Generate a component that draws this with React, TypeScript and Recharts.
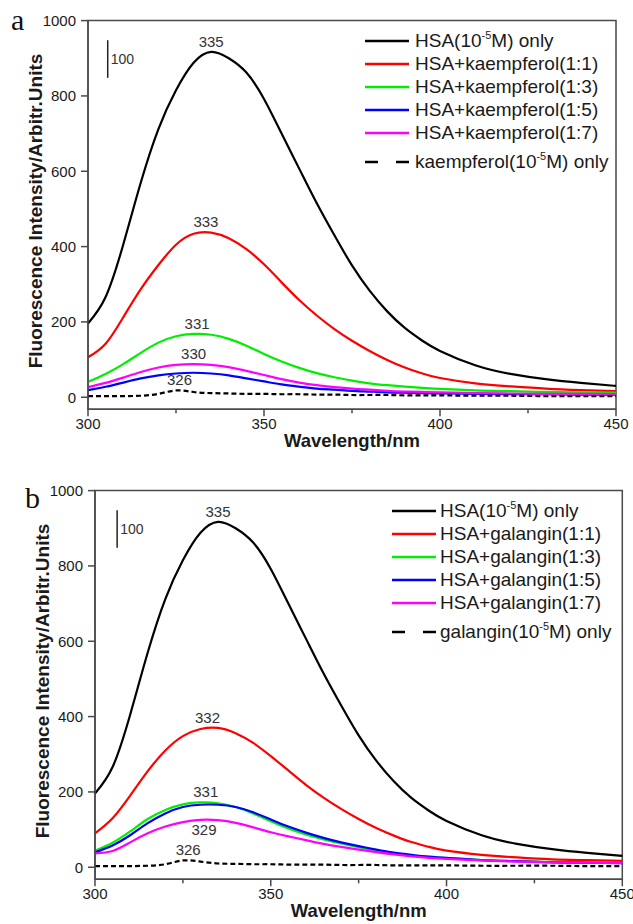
import React from "react";
import { LineChart, Line, XAxis, YAxis, Legend, ReferenceArea, ReferenceDot, ReferenceLine } from "recharts";

// emission wavelength (nm)
const wavelengths = [
  300, 305, 310, 315, 320, 325, 330, 335, 340, 345, 350, 355, 360, 365, 370, 375, 380, 385, 390, 395, 400,
  410, 420, 430, 440, 450,
];

// panel a – kaempferol
const hsaOnly = [196, 266, 405, 570, 712, 815, 888, 917, 900, 862, 792, 700, 607, 515, 430, 350, 283, 228, 184, 150, 123, 85, 62, 48, 38, 30];
const kaempferol11 = [106, 142, 212, 287, 351, 405, 434, 437, 422, 393, 353, 305, 258, 217, 181, 150, 123, 99, 79, 63, 51, 37, 29, 23, 19, 16];
const kaempferol13 = [41, 62, 88, 118, 145, 162, 168, 166, 155, 137, 115, 95, 78, 64, 53, 44, 37, 32, 28, 25, 22, 18, 16, 14, 13, 12];
const kaempferol15 = [19, 28, 39, 50, 58, 63, 65, 63, 58, 50, 42, 34, 28, 23, 20, 17, 15, 13, 12, 11, 10, 9, 8, 8, 7, 7];
const kaempferol17 = [27, 38, 52, 67, 79, 86, 88, 86, 80, 70, 59, 48, 39, 32, 27, 23, 20, 17, 15, 14, 13, 11, 10, 9, 9, 8];
const kaempferolOnly = [3, 3, 3, 4, 9, 18, 14, 11, 10, 9, 9, 8, 8, 7, 7, 6, 6, 6, 5, 5, 5, 4, 4, 3, 3, 3];

// panel b – galangin
const galangin11 = [90, 130, 190, 255, 310, 348, 367, 370, 356, 330, 295, 257, 219, 185, 155, 128, 104, 84, 67, 54, 44, 33, 26, 21, 19, 17];
const galangin13 = [44, 65, 95, 128, 152, 167, 172, 170, 160, 143, 122, 103, 87, 74, 63, 53, 44, 37, 31, 27, 24, 19, 16, 14, 13, 12];
const galangin15 = [40, 58, 85, 117, 143, 160, 166, 166, 160, 146, 127, 108, 92, 78, 66, 56, 47, 39, 33, 28, 25, 19, 16, 13, 12, 11];
const galangin17 = [37, 43, 66, 90, 108, 120, 126, 125, 118, 106, 93, 82, 72, 62, 54, 47, 40, 34, 29, 25, 22, 18, 15, 13, 12, 11];
const galanginOnly = [3, 3, 3, 4, 8, 18, 15, 10, 9, 8, 8, 7, 7, 7, 6, 6, 6, 5, 5, 5, 5, 4, 4, 4, 3, 3];

const xTicks = [300, 325, 350, 375, 400, 425, 450];
const yTicks = [0, 200, 400, 600, 800, 1000];

// peak maxima annotations
const peaksA = [
  { wl: 335, value: 917, text: "335", pos: "top" },
  { wl: 333.5, value: 438, text: "333", pos: "top" },
  { wl: 331, value: 168, text: "331", pos: "top" },
  { wl: 330, value: 88, text: "330", pos: "top" },
  { wl: 326, value: 18, text: "326", pos: "top" },
];
const peaksB = [
  { wl: 335, value: 917, text: "335", pos: "top" },
  { wl: 332, value: 371, text: "332", pos: "top" },
  { wl: 331.5, value: 172, text: "331", pos: "top" },
  { wl: 331, value: 126, text: "329", pos: "bottom" },
  { wl: 326.5, value: 19, text: "326", pos: "top" },
];

const FONT = '"Liberation Sans", Arial, Helvetica, sans-serif';
const AXIS = "#4a4a4a";
const INK = "#1a1a1a";

const Sup = ({ children }: { children: React.ReactNode }) => (
  <span style={{ fontSize: 11, position: "relative", top: -8 }}>{children}</span>
);

type Series = { key: string; values: number[]; color: string; dash?: string; label: React.ReactNode };

const seriesA: Series[] = [
  { key: "hsa", values: hsaOnly, color: "#000000", label: <>HSA(10<Sup>-5</Sup>M) only</> },
  { key: "r11", values: kaempferol11, color: "#ff0000", label: "HSA+kaempferol(1:1)" },
  { key: "r13", values: kaempferol13, color: "#00ee00", label: "HSA+kaempferol(1:3)" },
  { key: "r15", values: kaempferol15, color: "#0000ff", label: "HSA+kaempferol(1:5)" },
  { key: "r17", values: kaempferol17, color: "#ff00ff", label: "HSA+kaempferol(1:7)" },
  { key: "only", values: kaempferolOnly, color: "#000000", dash: "5 3", label: <>kaempferol(10<Sup>-5</Sup>M) only</> },
];

const seriesB: Series[] = [
  { key: "hsa", values: hsaOnly, color: "#000000", label: <>HSA(10<Sup>-5</Sup>M) only</> },
  { key: "r11", values: galangin11, color: "#ff0000", label: "HSA+galangin(1:1)" },
  { key: "r13", values: galangin13, color: "#00ee00", label: "HSA+galangin(1:3)" },
  { key: "r15", values: galangin15, color: "#0000ff", label: "HSA+galangin(1:5)" },
  { key: "r17", values: galangin17, color: "#ff00ff", label: "HSA+galangin(1:7)" },
  { key: "only", values: galanginOnly, color: "#000000", dash: "5 3", label: <>galangin(10<Sup>-5</Sup>M) only</> },
];

function WlTick(props: any) {
  const { x, y, payload } = props;
  const major = payload.value % 50 === 0;
  return (
    <g>
      <line x1={x} x2={x} y1={y} y2={y + (major ? 7 : 4)} stroke={AXIS} strokeWidth={1.5} />
      {major && (
        <text x={x} y={y + 19.5} textAnchor="middle" fontSize={15} fill={INK} fontFamily={FONT}>
          {payload.value}
        </text>
      )}
    </g>
  );
}

function LegendRows({ series, gap }: { series: Series[]; gap: number }) {
  return (
    <div style={{ position: "relative", fontFamily: FONT, fontSize: 19, color: INK }}>
      {series.map((s, i) => (
        <div
          key={s.key}
          style={{
            position: "absolute",
            left: 0,
            top: i * 22.8 + (s.dash ? 7 : 0),
            height: 22.8,
            display: "flex",
            alignItems: "center",
            whiteSpace: "nowrap",
          }}
        >
          <svg width={44} height={6} style={{ marginRight: gap }}>
            <line x1={0} x2={44} y1={3} y2={3} stroke={s.color} strokeWidth={2.5} strokeDasharray={s.dash ? "13 18" : undefined} />
          </svg>
          <span>{s.label}</span>
        </div>
      ))}
    </div>
  );
}

type PanelProps = {
  series: Series[];
  peaks: { wl: number; value: number; text: string; pos: string }[];
  height: number;
  axisWidth: number;
  rightMargin: number;
  legendLeft: number;
  legendGap: number;
  barX: number;
};

function Panel({ series, peaks, height, axisWidth, rightMargin, legendLeft, legendGap, barX }: PanelProps) {
  const data = wavelengths.map((wl, i) => {
    const row: Record<string, number> = { wl };
    series.forEach((s) => (row[s.key] = s.values[i]));
    return row;
  });
  const plotBottom = 409.3;
  return (
    <LineChart width={633} height={height} data={data} margin={{ top: 20.6, right: rightMargin, left: 0, bottom: 0 }}>
      <XAxis
        dataKey="wl"
        type="number"
        domain={[300, 450]}
        ticks={xTicks}
        interval={0}
        height={height - plotBottom}
        tickSize={0}
        tickMargin={0}
        tickLine={false}
        tick={<WlTick />}
        axisLine={{ stroke: AXIS, strokeWidth: 1.5 }}
        label={{
          content: (p: any) => (
            <text
              x={p.viewBox.x + p.viewBox.width / 2}
              y={p.viewBox.y + 38}
              textAnchor="middle"
              fontSize={18.5}
              fontWeight="bold"
              fill={INK}
              fontFamily={FONT}
            >
              Wavelength/nm
            </text>
          ),
        }}
      />
      <YAxis
        type="number"
        domain={[-32, 1000]}
        allowDataOverflow
        ticks={yTicks}
        interval={0}
        width={axisWidth}
        tickSize={7}
        tickMargin={5}
        tick={{ fontSize: 15, fill: INK, fontFamily: FONT }}
        tickLine={{ stroke: AXIS, strokeWidth: 1.5 }}
        axisLine={{ stroke: AXIS, strokeWidth: 1.5 }}
        label={{
          content: (p: any) => {
            const cx = axisWidth - 46;
            const cy = p.viewBox.y + p.viewBox.height / 2 - 4;
            return (
              <text
                x={cx}
                y={cy}
                transform={`rotate(-90, ${cx}, ${cy})`}
                textAnchor="middle"
                fontSize={19}
                fontWeight="bold"
                fill={INK}
                fontFamily={FONT}
              >
                Fluorescence Intensity/Arbitr.Units
              </text>
            );
          },
        }}
      />
      <ReferenceArea x1={300} x2={450} y1={-32} y2={1000} fill="none" stroke={AXIS} strokeWidth={1.5} />
      {series.map((s) => (
        <Line
          key={s.key}
          type="natural"
          dataKey={s.key}
          stroke={s.color}
          strokeWidth={2.2}
          strokeDasharray={s.dash}
          dot={false}
          activeDot={false}
          isAnimationActive={false}
        />
      ))}
      {peaks.map((p) => (
        <ReferenceDot
          key={p.text + p.value}
          x={p.wl}
          y={p.value}
          r={0}
          fill="none"
          stroke="none"
          label={{ value: p.text, position: p.pos as any, offset: 5, fontSize: 15, fill: "#333", fontFamily: FONT }}
        />
      ))}
      <ReferenceLine
        segment={[
          { x: barX, y: 848 },
          { x: barX, y: 948 },
        ]}
        stroke="#222"
        strokeWidth={1.5}
      />
      <ReferenceDot
        x={barX}
        y={898}
        r={0}
        fill="none"
        stroke="none"
        label={{ value: "100", position: "right", offset: 3, fontSize: 14, fill: "#333", fontFamily: FONT }}
      />
      <Legend
        layout="vertical"
        align="center"
        verticalAlign="middle"
        wrapperStyle={{ left: legendLeft, top: 30, width: 250, height: 150 }}
        content={() => <LegendRows series={series} gap={legendGap} />}
      />
    </LineChart>
  );
}

export default function App() {
  const panelLetter: React.CSSProperties = {
    position: "absolute",
    fontFamily: '"Liberation Serif", "Times New Roman", serif',
    fontSize: 30,
    lineHeight: "30px",
    color: "#111",
  };
  return (
    <div style={{ position: "absolute", left: 0, top: 0, width: 633, height: 924, overflow: "hidden", background: "#fff" }}>
      <div style={{ position: "absolute", left: 0, top: 0 }}>
        <Panel series={seriesA} peaks={peaksA} height={460} axisWidth={88} rightMargin={17} legendLeft={365} legendGap={6} barX={305.6} />
      </div>
      <div style={{ position: "absolute", left: 0, top: 470 }}>
        <Panel series={seriesB} peaks={peaksB} height={454} axisWidth={95} rightMargin={10.7} legendLeft={392} legendGap={4} barX={306.3} />
      </div>
      <div style={{ ...panelLetter, left: 11, top: 5 }}>a</div>
      <div style={{ ...panelLetter, left: 25, top: 483 }}>b</div>
    </div>
  );
}
